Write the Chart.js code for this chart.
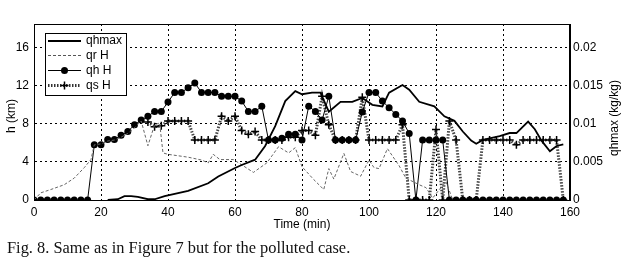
<!DOCTYPE html>
<html>
<head>
<meta charset="utf-8">
<script src="https://cdn.jsdelivr.net/npm/chart.js@4.4.1/dist/chart.umd.min.js"></script>
<style>
  body { margin: 0; background: #fff; }
  #wrap { position: relative; width: 625px; height: 264px; }
  #caption { position: absolute; left: 7px; top: 240px; font: 16.4px "Liberation Serif", "Times New Roman", serif; line-height: 16px; color: #111; white-space: nowrap; }
</style>
</head>
<body>
<div id="wrap">
  <canvas id="myChart" width="625" height="264"></canvas>
  <div id="caption">Fig. 8. Same as in Figure 7 but for the polluted case.</div>
</div>
<script>
// time axis (min)
var xTicks = [0, 20, 40, 60, 80, 100, 120, 140, 160];
var hTicks = [0, 4, 8, 12, 16];

// qh H: height (km), sampled every 2 min
var qhTime = [];
for (var t = 0; t <= 158; t += 2) qhTime.push(t);
var qhH = [0, 0, 0, 0, 0, 0, 0, 0, 0,
  5.8, 5.8, 6.35, 6.35, 6.8, 7.2, 7.9, 8.4, 8.8, 9.3, 9.3,
  10.3, 11.3, 11.3, 11.8, 12.3, 11.3, 11.3, 11.3, 10.9, 10.9, 10.9,
  10.4, 9.3, 9.3, 9.85, 6.3, 6.3, 6.5, 6.9, 6.9, 6.3,
  9.85, 9.3, 8.4, 10.9, 6.3, 6.3, 6.3, 6.3,
  9.25, 11.3, 11.3, 10.4, 9.7, 9.0, 8.3, 7.0, 0,
  6.3, 6.3, 6.3, 6.3,
  0, 0, 0, 0, 0, 0, 0, 0, 0, 0, 0, 0, 0, 0, 0, 0, 0, 0];

// qs H: height (km), every 2 min from 34
var qsTime = [];
for (var t2 = 34; t2 <= 158; t2 += 2) qsTime.push(t2);
var qsH = [8.2, 7.7, 7.8, 8.3, 8.3, 8.3, 8.3, 6.3, 6.3, 6.3, 6.3,
  8.8, 8.3, 8.8, 7.3, 6.9, 7.2, 6.3, 6.3, 6.3, 6.3, 6.6, 6.6,
  7.3, 7.3, 6.8, 10.9, 7.9, 6.3, 6.3, 6.3, 6.3, 10.8,
  6.3, 6.3, 6.3, 6.3, 6.3, 7.9, 0, 0, 0, 0, 7.4, 0, 8.3, 6.3,
  0, 0, 0, 6.3, 6.3, 6.3, 6.3, 6.3, 5.8, 6.3, 6.3, 6.3, 6.3, 6.3, 6.3, 0];

// qr H: height (km)
var qrTime = [0, 2, 5, 9, 12, 15, 17, 18, 20, 22, 24, 26, 28, 30, 32, 34, 36, 37.5, 38.5, 40,
  46, 50, 52, 53.5, 55.5, 59.5, 62, 65.5, 69.5, 73, 76, 78, 80, 83.5, 86.5, 88, 89.5, 92.5, 94.5, 97.5,
  100, 101.5, 103, 105.5, 109, 111, 115, 117, 119, 121, 123, 125];
var qrH = [0, 0.75, 1.1, 1.6, 2.3, 3.4, 4.25, 5.8, 5.9, 6.2, 6.3, 6.6, 7.0, 7.6, 8.3, 5.7, 7.9, 8.1, 4.95, 4.8,
  4.5, 4.2, 3.9, 4.8, 4.25, 4.25, 3.7, 2.9, 3.9, 5.6, 4.95, 5.5, 3.5, 2.15, 1.1, 3.3, 2.2, 4.9, 3.0, 2.5,
  4.2, 3.4, 3.3, 5.4, 3.6, 2.3, 1.6, 1.3, 0.2, 1.1, 1.9, 0];

// qhmax (kg/kg), right axis
var qmTime = [22, 25, 27, 29, 31, 34, 36, 39, 46, 52, 55, 60, 62, 66, 69, 72, 75, 78, 80, 83, 85.5, 88,
  91.5, 95, 98, 101, 104, 106, 110, 112, 115, 119.5, 122.5, 125.5, 128, 130.5, 132, 134, 139, 142, 144,
  147.5, 149.5, 151.5, 154, 156, 158];
var qhmax = [0, 0.0001, 0.0005, 0.0005, 0.0004, 0.0001, 0.0001, 0.0005, 0.0012, 0.0022, 0.0031, 0.0042,
  0.0046, 0.0053, 0.0071, 0.0097, 0.0130, 0.0143, 0.0139, 0.0141, 0.0141, 0.0116,
  0.0129, 0.0129, 0.0134, 0.0125, 0.0123, 0.0141, 0.0151, 0.0145, 0.0129, 0.0123, 0.0110, 0.0104,
  0.0090, 0.0078, 0.0074, 0.0079, 0.0084, 0.0088, 0.0088, 0.0103, 0.0093, 0.0078, 0.0064, 0.0071, 0.0073];

function pts(xs, ys) {
  return xs.map(function (x, i) { return {x: x, y: ys[i]}; });
}

Chart.defaults.font.family = '"Liberation Sans", Arial, sans-serif';
Chart.defaults.font.size = 12;
Chart.defaults.color = '#000';

// box around the plot, legend inside it, axis titles
var extras = {
  id: 'extras',
  afterDatasetsDraw: function (chart) {
    var c = chart.ctx, a = chart.chartArea;
    c.save();
    c.strokeStyle = '#000';
    c.lineWidth = 1;
    c.strokeRect(a.left + 0.5, a.top + 0.5, a.right - a.left - 1, a.bottom - a.top);

    // legend
    c.fillStyle = '#fff';
    c.fillRect(45, 33, 81, 63);
    c.strokeRect(45.5, 33.5, 81, 62);
    var rows = [41, 55.5, 70.5, 85.5];
    var names = ['qhmax', 'qr H', 'qh H', 'qs H'];
    c.lineWidth = 2; c.beginPath(); c.moveTo(48, rows[0]); c.lineTo(81, rows[0]); c.stroke();
    c.lineWidth = 1; c.strokeStyle = '#555'; c.setLineDash([3, 2]);
    c.beginPath(); c.moveTo(48, rows[1]); c.lineTo(81, rows[1]); c.stroke();
    c.setLineDash([]); c.strokeStyle = '#000';
    c.beginPath(); c.moveTo(48, rows[2]); c.lineTo(81, rows[2]); c.stroke();
    c.fillStyle = '#000'; c.beginPath(); c.arc(64.5, rows[2], 3.5, 0, Math.PI * 2); c.fill();
    c.lineWidth = 3; c.strokeStyle = '#333'; c.setLineDash([1.5, 1.5]);
    c.beginPath(); c.moveTo(48, rows[3]); c.lineTo(81, rows[3]); c.stroke();
    c.setLineDash([]); c.lineWidth = 1.5; c.strokeStyle = '#000';
    c.beginPath(); c.moveTo(60.5, rows[3]); c.lineTo(68.5, rows[3]); c.moveTo(64.5, rows[3] - 4); c.lineTo(64.5, rows[3] + 4); c.stroke();
    c.fillStyle = '#000';
    c.font = '12px "Liberation Sans", Arial, sans-serif';
    c.textBaseline = 'middle';
    names.forEach(function (n, i) { c.fillText(n, 86, rows[i]); });
    c.restore();
  },
  afterDraw: function (chart) {
    var c = chart.ctx;
    c.save();
    c.fillStyle = '#000';
    c.font = '12px "Liberation Sans", Arial, sans-serif';
    c.textAlign = 'center';
    c.textBaseline = 'middle';
    c.translate(12, 116);
    c.rotate(-Math.PI / 2);
    c.fillText('h (km)', 0, 0);
    c.setTransform(1, 0, 0, 1, 0, 0);
    c.translate(615, 118);
    c.rotate(-Math.PI / 2);
    c.fillText('qhmax (kg/kg)', 0, 0);
    c.restore();
  }
};

var ctx = document.getElementById('myChart').getContext('2d');
var chart = new Chart(ctx, {
  type: 'line',
  data: {
    datasets: [{
      label: 'qhmax',
      data: pts(qmTime, qhmax),
      yAxisID: 'y1',
      borderColor: '#000',
      borderWidth: 1.8,
      pointRadius: 0
    }, {
      label: 'qr H',
      data: pts(qrTime, qrH),
      yAxisID: 'y',
      borderColor: '#666',
      borderWidth: 1,
      borderDash: [3, 2],
      pointRadius: 0
    }, {
      label: 'qh H',
      data: pts(qhTime, qhH),
      yAxisID: 'y',
      borderColor: '#000',
      borderWidth: 1,
      pointRadius: 3.5,
      pointBackgroundColor: '#000',
      pointBorderColor: '#000',
      pointBorderWidth: 0
    }, {
      label: 'qs H',
      data: pts(qsTime, qsH),
      yAxisID: 'y',
      borderColor: '#444',
      borderWidth: 3,
      borderDash: [1.5, 1.5],
      pointStyle: 'cross',
      pointRadius: 4,
      pointBorderColor: '#000',
      pointBorderWidth: 1.5
    }]
  },
  options: {
    responsive: false,
    animation: false,
    devicePixelRatio: 1,
    layout: { padding: { top: 24, bottom: 30, left: 0, right: 0 } },
    plugins: { legend: { display: false }, tooltip: { enabled: false } },
    scales: {
      x: {
        type: 'linear',
        min: 0, max: 160,
        afterFit: function (s) { s.height = 34; },
        afterBuildTicks: function (s) { s.ticks = xTicks.map(function (v) { return {value: v}; }); },
        ticks: { padding: 5, maxRotation: 0 },
        grid: { color: '#000', lineWidth: 1, drawTicks: false },
        border: { display: true, color: '#000', dash: [2, 3] },
        title: { display: true, text: 'Time (min)', padding: { top: 0, bottom: 2 } }
      },
      y: {
        position: 'left',
        min: 0, max: 18.5,
        afterFit: function (s) { s.width = 34; },
        afterBuildTicks: function (s) { s.ticks = hTicks.map(function (v) { return {value: v}; }); },
        ticks: { padding: 5 },
        grid: { color: '#000', lineWidth: 1, drawTicks: false },
        border: { display: true, color: '#000', dash: [2, 3] }
      },
      y1: {
        position: 'right',
        min: 0, max: 0.023125,
        afterFit: function (s) { s.width = 55; },
        ticks: {
          stepSize: 0.005,
          includeBounds: false,
          padding: 3,
          callback: function (v) { return v === 0 ? '0' : String(Number(v.toFixed(3))); }
        },
        grid: { drawOnChartArea: false, drawTicks: false },
        border: { display: true, color: '#000' }
      }
    }
  },
  plugins: [extras]
});
</script>
</body>
</html>
